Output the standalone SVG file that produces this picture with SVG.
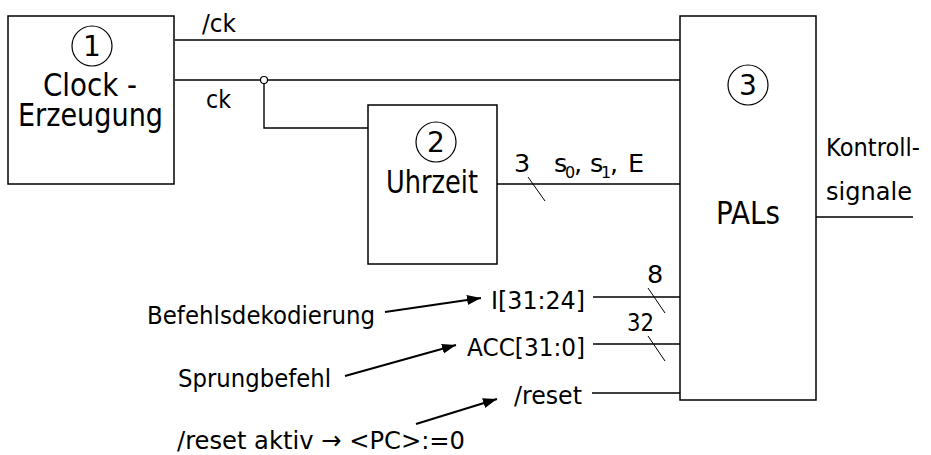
<svg xmlns="http://www.w3.org/2000/svg" width="931" height="455" viewBox="0 0 931 455">
<style>
.box{fill:#fff;stroke:#000;stroke-width:1.5}
.num{fill:none;stroke:#000;stroke-width:1.2}
.w{fill:none;stroke:#000;stroke-width:1.4}
.sl{fill:none;stroke:#000;stroke-width:1}
.ar{fill:none;stroke:#000;stroke-width:2}
text{font-family:"DejaVu Sans","Liberation Sans",sans-serif;fill:#000}
.big{font-size:32.5px}
.sm{font-size:25.5px}
.dg{font-size:28px;text-anchor:middle}
</style>
<defs>
<marker id="ah" markerUnits="userSpaceOnUse" markerWidth="15" markerHeight="11" refX="14" refY="5" orient="auto">
<path d="M0,0 L14,5 L0,10 z" fill="#000"/>
</marker>
</defs>
<g id="connectors">
<line class="w" x1="175" y1="40" x2="680" y2="40"/>
<line class="w" x1="175" y1="80" x2="260.5" y2="80"/>
<line class="w" x1="267.5" y1="80" x2="680" y2="80"/>
<polyline class="w" points="264,83.5 264,128 368,128"/>
<circle cx="264" cy="80" r="3.5" fill="#fff" stroke="#000" stroke-width="1.2"/>
<line class="w" x1="497" y1="184" x2="680" y2="184"/>
<line class="sl" x1="528" y1="177" x2="545" y2="201"/>
<line class="w" x1="816" y1="217" x2="913" y2="217"/>
<line class="w" x1="593" y1="297" x2="680" y2="297"/>
<line class="sl" x1="648" y1="288" x2="665" y2="313"/>
<line class="w" x1="593" y1="344" x2="680" y2="344"/>
<line class="sl" x1="648" y1="336" x2="665" y2="361"/>
<line class="w" x1="592" y1="393" x2="680" y2="393"/>
<line class="ar" x1="385" y1="312" x2="481" y2="298" marker-end="url(#ah)"/>
<line class="ar" x1="345" y1="376" x2="456" y2="345" marker-end="url(#ah)"/>
<line class="ar" x1="416" y1="424" x2="497" y2="399" marker-end="url(#ah)"/>
</g>
<g id="labels">
<text class="sm" x="202" y="32" textLength="34" lengthAdjust="spacingAndGlyphs">/ck</text>
<text class="sm" x="206" y="108" textLength="25" lengthAdjust="spacingAndGlyphs">ck</text>
<text class="sm" x="514" y="172">3</text>
<text class="sm" y="172"><tspan x="554">s</tspan><tspan x="565" y="178" font-size="16">0</tspan><tspan x="574" y="172">,</tspan><tspan x="590">s</tspan><tspan x="601" y="178" font-size="16">1</tspan><tspan x="610" y="172">,</tspan><tspan x="628">E</tspan></text>
<text class="sm" x="647" y="283">8</text>
<text class="sm" x="627" y="331" textLength="27" lengthAdjust="spacingAndGlyphs">32</text>
<text class="sm" x="826" y="156" textLength="94" lengthAdjust="spacingAndGlyphs">Kontroll-</text>
<text class="sm" x="826" y="200" textLength="86" lengthAdjust="spacingAndGlyphs">signale</text>
<text class="sm" x="491" y="309" textLength="94" lengthAdjust="spacingAndGlyphs">I[31:24]</text>
<text class="sm" x="467" y="356" textLength="118" lengthAdjust="spacingAndGlyphs">ACC[31:0]</text>
<text class="sm" x="514" y="404" textLength="68" lengthAdjust="spacingAndGlyphs">/reset</text>
<text class="sm" x="147" y="324" textLength="228" lengthAdjust="spacingAndGlyphs">Befehlsdekodierung</text>
<text class="sm" x="178" y="387" textLength="153" lengthAdjust="spacingAndGlyphs">Sprungbefehl</text>
<text class="sm" x="177" y="449" textLength="288" lengthAdjust="spacingAndGlyphs">/reset aktiv → &lt;PC&gt;:=0</text>
</g>
<g id="clock">
<rect class="box" x="8" y="16" width="166" height="168"/>
<circle class="num" cx="92" cy="46" r="20"/>
<text class="dg" x="92" y="56">1</text>
<text class="big" x="43" y="96" textLength="94" lengthAdjust="spacingAndGlyphs">Clock -</text>
<text class="big" x="18" y="126" textLength="145" lengthAdjust="spacingAndGlyphs">Erzeugung</text>
</g>
<g id="uhrzeit">
<rect class="box" x="368" y="105" width="129" height="159"/>
<circle class="num" cx="436" cy="142" r="20"/>
<text class="dg" x="436" y="152">2</text>
<text class="big" x="386" y="193" textLength="92" lengthAdjust="spacingAndGlyphs">Uhrzeit</text>
</g>
<g id="pals">
<rect class="box" x="680" y="16" width="136" height="384"/>
<circle class="num" cx="748" cy="85" r="20"/>
<text class="dg" x="748" y="95">3</text>
<text class="big" x="716" y="224" textLength="64" lengthAdjust="spacingAndGlyphs">PALs</text>
</g>
</svg>
